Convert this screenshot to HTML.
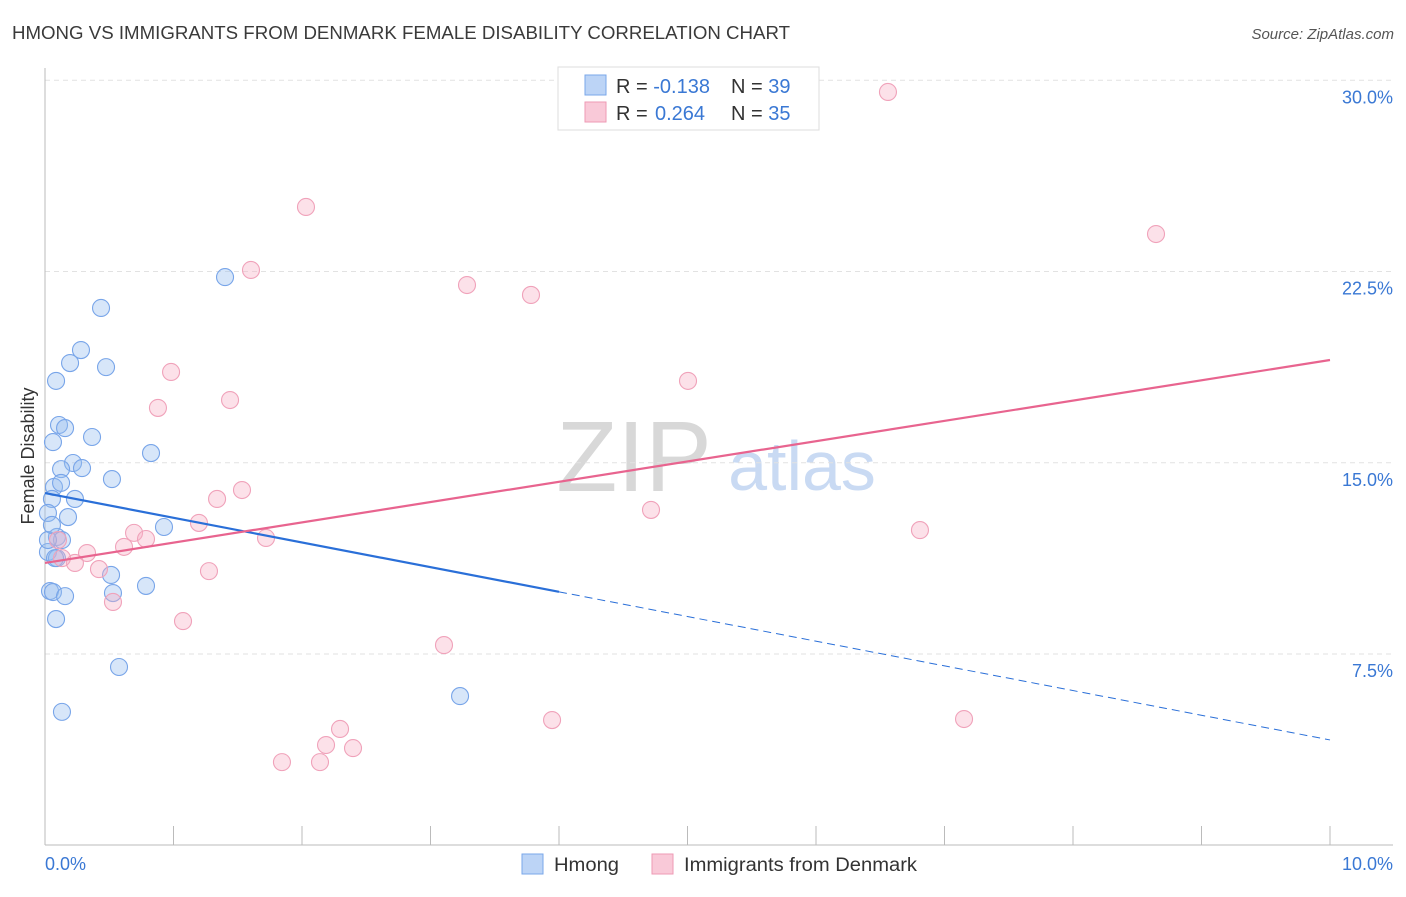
<!DOCTYPE html>
<html><head><meta charset="utf-8"><style>
body{margin:0;background:#fff;font-family:"Liberation Sans",sans-serif}
svg text{font-family:"Liberation Sans",sans-serif}
</style></head><body>
<svg id="chart" width="1406" height="892" xmlns="http://www.w3.org/2000/svg">
<text x="12" y="39" font-size="18" fill="#3a3a3a" textLength="778" lengthAdjust="spacingAndGlyphs">HMONG VS IMMIGRANTS FROM DENMARK FEMALE DISABILITY CORRELATION CHART</text>
<text x="1394" y="39" font-size="15" fill="#555" text-anchor="end" font-style="italic">Source: ZipAtlas.com</text>
<g>
<text x="634" y="491" font-size="100" font-family="Liberation Serif" fill="#d8d8d8" text-anchor="middle">ZIP</text>
<text x="802" y="490" font-size="70" fill="#c9daf3" text-anchor="middle">atlas</text>
</g>
<g id="grid"></g>
<g id="axes"></g>
<g id="marks"></g>
<g>
<rect x="558" y="67" width="261" height="63" fill="#fff" stroke="#ddd"/>
<rect x="585" y="75" width="21" height="20" fill="#bcd4f6" stroke="#7aa7ea"/>
<rect x="585" y="102" width="21" height="20" fill="#f9c9d8" stroke="#ee9ab4"/>
<text x="616" y="93" font-size="20" fill="#333">R = <tspan fill="#3a78d4">-0.138</tspan><tspan x="731">N = </tspan><tspan fill="#3a78d4">39</tspan></text>
<text x="616" y="120" font-size="20" fill="#333">R = <tspan fill="#3a78d4" x="655">0.264</tspan><tspan x="731">N = </tspan><tspan fill="#3a78d4">35</tspan></text>
</g>
<g>
<rect x="522" y="854" width="21" height="20" fill="#bcd4f6" stroke="#7aa7ea"/>
<text x="554" y="871" font-size="19" fill="#333" textLength="65" lengthAdjust="spacingAndGlyphs">Hmong</text>
<rect x="652" y="854" width="21" height="20" fill="#f9c9d8" stroke="#ee9ab4"/>
<text x="684" y="871" font-size="19" fill="#333" textLength="233" lengthAdjust="spacingAndGlyphs">Immigrants from Denmark</text>
</g>
<text transform="translate(34,456) rotate(-90)" font-size="18" fill="#333" text-anchor="middle">Female Disability</text>
<text x="45" y="870" font-size="18" fill="#3a78d4">0.0%</text>
<text x="1393" y="870" font-size="18" fill="#3a78d4" text-anchor="end">10.0%</text>
</svg>
<script>
const yTicks=[7.5,15,22.5,30];
const yTickLabels=["7.5%","15.0%","22.5%","30.0%"];
const xTicks=[0,1,2,3,4,5,6,7,8,9,10];
const hmongX=[0.436,1.401,0.280,0.195,0.475,0.086,0.109,0.156,0.366,0.062,0.825,0.218,0.125,0.288,0.521,0.070,0.125,0.054,0.233,0.179,0.023,0.926,0.093,0.132,0.023,0.093,0.078,0.514,0.786,0.039,0.062,0.156,0.529,0.086,0.576,3.230,0.132,0.023,0.054];
const hmongY=[21.07,22.28,19.42,18.91,18.75,18.21,16.48,16.36,16.01,15.81,15.38,14.99,14.75,14.79,14.36,14.05,14.21,13.58,13.58,12.87,13.03,12.48,12.09,11.97,11.50,11.26,11.26,10.60,10.17,9.97,9.93,9.77,9.89,8.87,6.99,5.85,5.23,11.97,12.56];
const denX=[6.560,2.031,8.646,1.603,3.284,3.782,0.981,5.004,1.440,0.879,1.533,1.339,4.716,1.198,6.809,0.693,0.786,1.720,0.615,0.327,0.101,0.233,0.132,0.420,1.276,0.529,1.074,3.105,3.946,7.152,2.296,2.187,2.397,1.844,2.140];
const denY=[29.54,25.03,23.97,22.56,21.97,21.58,18.56,18.21,17.46,17.15,13.93,13.58,13.15,12.64,12.36,12.25,12.01,12.05,11.70,11.46,11.97,11.07,11.26,10.83,10.75,9.54,8.79,7.85,4.91,4.95,4.56,3.93,3.81,3.26,3.26];
const hmongTrend=[13.81,4.13];
const denTrend=[11.07,19.03];
const hmongSolidEnd=4.0;

const NS="http://www.w3.org/2000/svg";
const X=v=>45+v*128.5;
const Y=v=>654-(v-7.5)*25.5;
function mk(tag,attrs,parent){const e=document.createElementNS(NS,tag);for(const k in attrs)e.setAttribute(k,attrs[k]);parent.appendChild(e);return e;}
const grid=document.getElementById('grid'),axes=document.getElementById('axes'),marks=document.getElementById('marks');
yTicks.forEach((t,i)=>{
  const l=mk('line',{x1:45,x2:1393,y1:Y(t),y2:Y(t),stroke:'#e2e2e2','stroke-dasharray':'5,4'},grid);
  
  
  const tx=mk('text',{x:1393,y:Y(t)+23,'font-size':18,fill:'#3a78d4','text-anchor':'end'},axes);
  tx.textContent=yTickLabels[i];
  
  
});
const la=mk('line',{x1:45,x2:45,y1:68,y2:845,stroke:'#bbb'},axes);


const ba=mk('line',{x1:45,x2:1393,y1:845,y2:845,stroke:'#bbb'},axes);


xTicks.forEach(t=>{
  const l=mk('line',{x1:X(t),x2:X(t),y1:826,y2:845,stroke:'#bbb'},axes);
  
  
});
function pts(xs,ys,fill,stroke,name){
  xs.forEach((x,i)=>{
    const c=mk('circle',{cx:X(x),cy:Y(ys[i]),r:8.5,fill:fill,stroke:stroke,'stroke-width':1.1},marks);
    
    
  });
}
pts(hmongX,hmongY,'rgba(150,188,240,0.38)','#78a5e9','hmong-point');
pts(denX,denY,'rgba(246,175,198,0.38)','#f0a2ba','denmark-point');
const at=(tr,x)=>tr[0]+(tr[1]-tr[0])*x/10;
const hs=mk('line',{x1:X(0),y1:Y(at(hmongTrend,0)),x2:X(hmongSolidEnd),y2:Y(at(hmongTrend,hmongSolidEnd)),stroke:'#2a6fd8','stroke-width':2.2},marks);


const hd=mk('line',{x1:X(hmongSolidEnd),y1:Y(at(hmongTrend,hmongSolidEnd)),x2:X(10),y2:Y(at(hmongTrend,10)),stroke:'#2a6fd8','stroke-width':1,'stroke-dasharray':'8,5'},marks);


const dt=mk('line',{x1:X(0),y1:Y(denTrend[0]),x2:X(10),y2:Y(denTrend[1]),stroke:'#e8648f','stroke-width':2.2},marks);


</script>
</body></html>
